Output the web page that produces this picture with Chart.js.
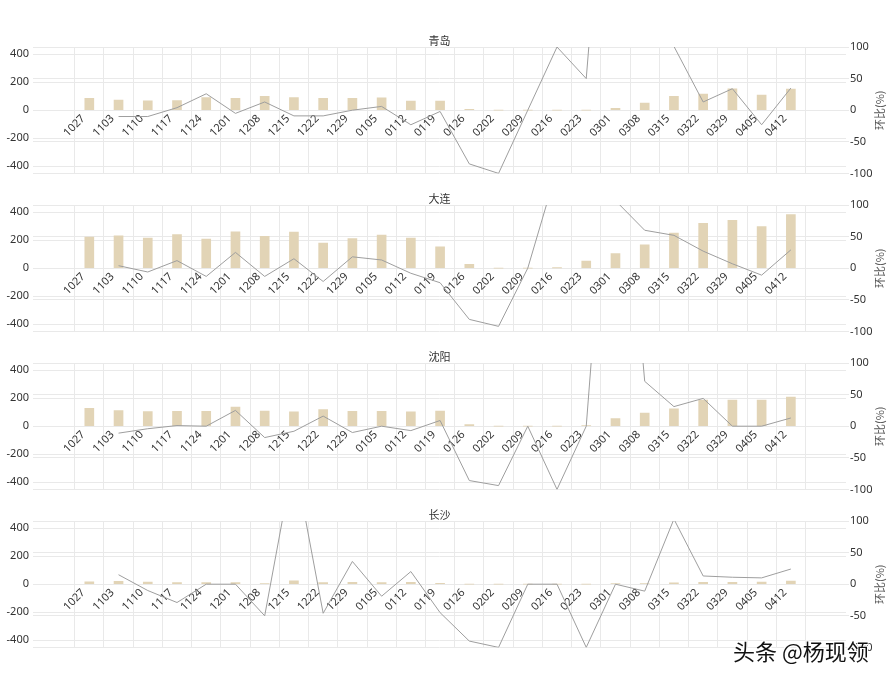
<!DOCTYPE html>
<html>
<head>
<meta charset="utf-8">
<script src="https://cdn.jsdelivr.net/npm/chart.js@4.4.1/dist/chart.umd.min.js"></script>
<style>
  body { margin: 0; background: #fff; width: 893px; height: 679px; position: relative; overflow: hidden; }
  .box { position: absolute; left: 0; width: 893px; height: 158px; }
  #mark { position: absolute; left: 733px; top: 634px; font: 22px 'Noto Sans CJK SC', sans-serif; color: #111;
          text-shadow: 1px 1px 0 #fff, -1px -1px 0 #fff, 1px -1px 0 #fff, -1px 1px 0 #fff; }
</style>
</head>
<body>
<div class="box" style="top:26px"><canvas id="c0"></canvas></div>
<div class="box" style="top:184px"><canvas id="c1"></canvas></div>
<div class="box" style="top:342px"><canvas id="c2"></canvas></div>
<div class="box" style="top:500px"><canvas id="c3"></canvas></div>
<div id="mark">头条 @杨现领</div>
<script>
const weeks = ['1027','1103','1110','1117','1124','1201','1208','1215','1222','1229','0105','0112','0119',
               '0126','0202','0209','0216','0223','0301','0308','0315','0322','0329','0405','0412'];

const cities = ['青岛', '大连', '沈阳', '长沙'];

const qingdaoBars = [84,72,67,69,91,85,100,91,84,84,88,65,65,7,0,0,0,0,14,51,100,116,153,109,151];
const qingdaoPct  = [null,-10,-10,4,26,-5,13,-9,-9,0,6,-23,-2,-85,-100,0,100,50,620,400,101,13,34,-23,35];

const dalianBars = [223,232,216,240,209,260,228,258,179,212,237,216,153,28,0,0,2,51,105,167,251,321,342,298,384];
const dalianPct  = [null,4,-6,12,-13,25,-13,15,-21,18,13,-8,-23,-81,-92,0,157,500,107,60,52,27,7,-11,29];

const shenyangBars = [127,111,104,107,107,137,109,102,118,107,107,102,109,12,0,0,0,5,54,94,125,186,186,186,209];
const shenyangPct  = [null,-11,-4,1,0,25,-18,-8,16,-10,0,-7,9,-86,-94,0,-100,0,600,71,31,44,0,0,13];

const changshaBars = [17,21,16,12,12,12,5,24,12,14,12,14,7,0,0,0,0,0,4,3,10,13,13,16,23];
const changshaPct  = [null,15,-10,-29,0,0,-50,200,-46,36,-19,20,-45,-90,-100,0,0,-100,0,-11,103,13,11,10,24];

const barSets = [qingdaoBars, dalianBars, shenyangBars, changshaBars];
const pctSets = [qingdaoPct, dalianPct, shenyangPct, changshaPct];

const barColor = '#e2d4b6';
const lineColor = '#9e9e9e';
const gridColor = '#e9e9e9';
const textColor = '#333';

Chart.defaults.font.family = "'Noto Sans', 'Noto Sans CJK SC', sans-serif";
Chart.defaults.font.size = 11;
Chart.defaults.color = textColor;

// city name above the plot and the right axis title (reads bottom to top)
const extraText = {
  id: 'extraText',
  afterDraw(chart, args, opts) {
    const {ctx, chartArea: {left, right, top, bottom}} = chart;
    ctx.save();
    ctx.fillStyle = textColor;
    ctx.font = "11px 'Noto Sans CJK SC', sans-serif";
    ctx.textAlign = 'center';
    ctx.textBaseline = 'bottom';
    ctx.fillText(opts.title, (left + right) / 2, top - 1);
    ctx.translate(880, (top + bottom) / 2);
    ctx.rotate(-Math.PI / 2);
    ctx.textBaseline = 'middle';
    ctx.fillStyle = '#555';
    ctx.fillText('环比(%)', 0, 0);
    ctx.restore();
  }
};

cities.forEach(function(city, k) {
  const bars = barSets[k].map((v, i) => ({x: i, y: v}));
  const pct = pctSets[k].map((v, i) => ({x: i, y: v}));

  new Chart(document.getElementById('c' + k), {
    type: 'bar',
    data: {
      datasets: [{
        type: 'line',
        data: pct,
        yAxisID: 'y1',
        borderColor: lineColor,
        borderWidth: 1,
        pointRadius: 0,
        tension: 0,
        order: 0
      }, {
        data: bars,
        yAxisID: 'y',
        backgroundColor: barColor,
        barThickness: 9,
        order: 1
      }]
    },
    plugins: [extraText],
    options: {
      responsive: true,
      maintainAspectRatio: false,
      animation: false,
      layout: { padding: { top: 21, bottom: 5, left: 0, right: 0 } },
      plugins: {
        legend: { display: false },
        tooltip: { enabled: false },
        extraText: { title: city }
      },
      scales: {
        x: {
          type: 'linear',
          position: { y: 0 },
          min: -1.37,
          max: 25.33,
          border: { display: false },
          grid: { color: gridColor, drawTicks: false },
          ticks: {
            stepSize: 1,
            autoSkip: false,
            includeBounds: false,
            minRotation: 45,
            maxRotation: 45,
            labelOffset: -6,
            padding: 2,
            callback: (v) => Number.isInteger(v) ? weeks[v] : ''
          }
        },
        y: {
          position: 'left',
          min: -452,
          max: 452,
          border: { display: false },
          grid: { color: gridColor, drawTicks: false },
          ticks: { stepSize: 200, includeBounds: false, padding: 4 },
          afterFit: (s) => { s.width = 33; }
        },
        y1: {
          position: 'right',
          min: -100,
          max: 100,
          border: { display: false },
          grid: { color: gridColor, tickLength: 3 },
          ticks: { stepSize: 50, padding: 1 },
          afterFit: (s) => { s.width = 47; }
        }
      }
    }
  });
});
</script>
</body>
</html>
